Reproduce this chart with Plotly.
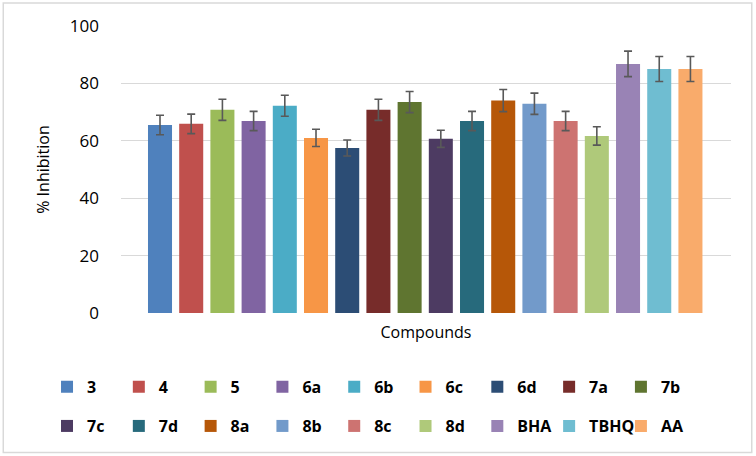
import plotly.graph_objects as go

compounds = ["3", "4", "5", "6a", "6b", "6c", "6d", "7a", "7b",
             "7c", "7d", "8a", "8b", "8c", "8d", "BHA", "TBHQ", "AA"]
inhibition = [65.5, 65.9, 70.8, 66.9, 72.2, 61.0, 57.5, 70.8, 73.5,
              60.7, 66.9, 74.0, 72.9, 66.9, 61.7, 86.8, 85.0, 85.0]
errors = [3.4, 3.4, 3.7, 3.35, 3.65, 3.0, 2.8, 3.7, 3.7,
          3.0, 3.35, 3.85, 3.7, 3.35, 3.2, 4.45, 4.35, 4.35]
colors = ["#4F81BD", "#C0504D", "#9BBB59", "#8064A2", "#4BACC6", "#F79646",
          "#2C4D75", "#772C2A", "#5F7530", "#4D3B62", "#276A7C", "#B65708",
          "#729ACA", "#CD7371", "#AFC97A", "#9983B5", "#6FBDD1", "#F9AB6B"]
y_ticks = [0, 20, 40, 60, 80, 100]

FONT = "Open Sans"

# legend groups: (row, half) -> legend id
def legend_id(i):
    row = i // 9
    col = i % 9
    half = 0 if col < 5 else 1
    n = row * 2 + half + 1
    return "legend" if n == 1 else f"legend{n}"

fig = go.Figure()
for i, (name, val, err, col) in enumerate(zip(compounds, inhibition, errors, colors)):
    fig.add_trace(go.Bar(
        x=[name], y=[val], name=name,
        marker=dict(color=col, line=dict(width=0)),
        width=0.77,
        error_y=dict(type="data", array=[err], visible=True,
                     color="#595959", thickness=1.6, width=4),
        legend=legend_id(i),
    ))

legend_common = dict(
    orientation="h", xanchor="left", yanchor="top",
    xref="container", yref="container",
    entrywidth=26.8, entrywidthmode="pixels",
    font=dict(family=FONT, size=16, color="#000000", weight="bold"),
    bgcolor="rgba(0,0,0,0)", itemclick=False, itemdoubleclick=False,
    traceorder="normal",
)
x_left = 0.0622
x_right = x_left + 5 * 71.7 / 756
y_row1 = 0.189
y_row2 = 0.103

fig.update_layout(
    width=756, height=456,
    margin=dict(l=121, r=25, t=26, b=143),
    paper_bgcolor="white", plot_bgcolor="white",
    barmode="overlay",
    showlegend=True,
    legend=dict(x=x_left, y=y_row1, **legend_common),
    legend2=dict(x=x_right, y=y_row1, **legend_common),
    legend3=dict(x=x_left, y=y_row2, **legend_common),
    legend4=dict(x=x_right, y=y_row2, **legend_common),
    xaxis=dict(
        type="category", categoryorder="array", categoryarray=compounds,
        range=[-1.25, 18.30], showticklabels=False, showgrid=False,
        showline=False, zeroline=False, ticks="",
        title=dict(text="Compounds", standoff=13,
                   font=dict(family=FONT, size=16, color="#000000")),
    ),
    yaxis=dict(
        range=[0, 100], tickvals=y_ticks, showgrid=True,
        gridcolor="#D9D9D9", gridwidth=1, zeroline=False, showline=False,
        ticks="", ticklabelstandoff=21,
        tickfont=dict(family=FONT, size=17, color="#000000"),
        title=dict(text="% Inhibition", standoff=16,
                   font=dict(family=FONT, size=16, color="#000000")),
    ),
    shapes=[dict(type="rect", xref="paper", yref="paper",
                 x0=-0.193, x1=1.034, y0=-0.486, y1=1.080,
                 line=dict(color="#D9D9D9", width=1.5), layer="below")],
)

fig.write_html("out.html", config={"displayModeBar": False},
               post_script="document.body.style.margin='0';")
